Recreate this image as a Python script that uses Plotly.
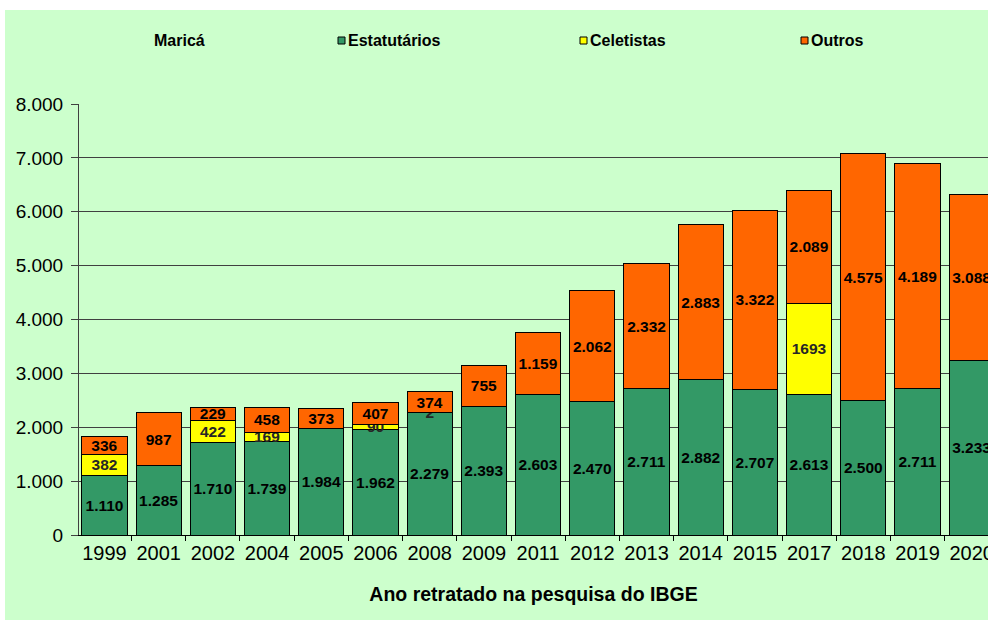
import plotly.graph_objects as go

years = ["1999", "2001", "2002", "2004", "2005", "2006", "2008", "2009", "2011",
         "2012", "2013", "2014", "2015", "2017", "2018", "2019", "2020"]
estatutarios = [1110, 1285, 1710, 1739, 1984, 1962, 2279, 2393, 2603,
                2470, 2711, 2882, 2707, 2613, 2500, 2711, 3233]
celetistas = [382, 0, 422, 169, 0, 90, 2, 0, 0,
              0, 0, 0, 0, 1693, 0, 0, 0]
outros = [336, 987, 229, 458, 373, 407, 374, 755, 1159,
          2062, 2332, 2883, 3322, 2089, 4575, 4189, 3088]

series_names = ["Estatutários", "Celetistas", "Outros"]
colors = ["#339966", "#FFFF00", "#FF6600"]
municipio = "Maricá"
x_title = "Ano retratado na pesquisa do IBGE"

W, H = 988, 621
L, R, T, B = 79, 0, 104, 86
PW, PH = W - L - R, H - T - B


def px(x):
    return (x - L) / PW


def py(y):
    return (H - B - y) / PH


def dotted(v):
    return f"{v:,}".replace(",", ".")


def lab_dot(vals):
    return [dotted(v) if v else "" for v in vals]


def lab_plain(vals):
    return [str(v) if v else "" for v in vals]


FONT = "Liberation Sans, Arial, sans-serif"

fig = go.Figure()
texts = [lab_dot(estatutarios), lab_plain(celetistas), lab_dot(outros)]
tcolors = ["#000000", "#262626", "#000000"]
for name, vals, col, txt, tc in zip(series_names, [estatutarios, celetistas, outros],
                                     colors, texts, tcolors):
    fig.add_trace(go.Bar(
        x=years, y=vals, name=name, marker=dict(color=col, line=dict(color="#000000", width=1)),
        text=txt, textposition="inside", insidetextanchor="middle", textangle=0,
        constraintext="none",
        textfont=dict(family=FONT, size=15.5, color=tc, weight="bold"),
        showlegend=False, hoverinfo="skip",
    ))

# background panel
fig.add_shape(type="rect", xref="paper", yref="paper", x0=px(5), x1=px(990),
              y0=py(620), y1=py(10), fillcolor="#CCFFCC", line=dict(width=0), layer="below")

# custom legend row
font_leg = dict(family=FONT, size=16, color="#000000", weight="bold")
fig.add_annotation(x=px(152), y=py(40), xref="paper", yref="paper", text=municipio,
                   showarrow=False, xanchor="left", yanchor="middle", font=font_leg)
leg_x = [338, 580, 801]
for lx, name, col in zip(leg_x, series_names, colors):
    fig.add_shape(type="rect", xref="paper", yref="paper", x0=px(lx), x1=px(lx + 7),
                  y0=py(44), y1=py(37), fillcolor=col, line=dict(color="#000000", width=1))
    fig.add_annotation(x=px(lx + 8), y=py(40), xref="paper", yref="paper", text=name,
                       showarrow=False, xanchor="left", yanchor="middle", font=font_leg)

fig.update_layout(
    width=W, height=H, margin=dict(l=L, r=R, t=T, b=B),
    barmode="stack", bargap=0.165,
    paper_bgcolor="#FFFFFF", plot_bgcolor="rgba(0,0,0,0)",
    separators=",.",
    font=dict(family=FONT, color="#000000"),
    xaxis=dict(
        type="category", range=[-0.47, 16.3], tickson="boundaries",
        ticks="outside", ticklen=5, tickcolor="#000000", tickwidth=1,
        showline=True, linecolor="#000000", linewidth=1, automargin=False,
        showgrid=False, tickangle=0, tickfont=dict(size=20, color="#000000"),
        title=dict(text=x_title, font=dict(size=19.5, color="#000000", weight="bold"), standoff=24),
    ),
    yaxis=dict(
        range=[0, 8000.5], dtick=1000, tickformat=",d",
        ticks="outside", ticklen=7, tickcolor="#404040", tickwidth=1,
        showline=True, linecolor="#404040", linewidth=1, automargin=False,
        showgrid=True, gridcolor="#404040", gridwidth=1, zeroline=False,
        tickfont=dict(size=19, color="#000000"), ticklabelstandoff=4,
    ),
)

fig.write_html("out.html")
